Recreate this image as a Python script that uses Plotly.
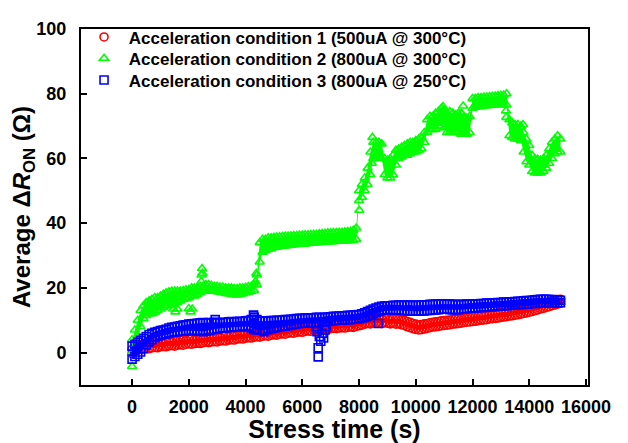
import plotly.graph_objects as go

# ---- data ----
# sampling times (s) of the dense measurement cloud
t_grid = [0, 100, 200, 300, 400, 500, 600, 700, 800, 900,
          1000, 1100, 1200, 1300, 1400, 1500, 1600, 1700, 1800, 1900,
          2000, 2100, 2200, 2300, 2400, 2500, 2600, 2700, 2800, 2900,
          3000, 3100, 3200, 3300, 3400, 3500, 3600, 3700, 3800, 3900,
          4000, 4100, 4200, 4300, 4400, 4500, 4600, 4700, 4800, 4900,
          5000, 5100, 5200, 5300, 5400, 5500, 5600, 5700, 5800, 5900,
          6000, 6100, 6200, 6300, 6400, 6500, 6600, 6700, 6800, 6900,
          7000, 7100, 7200, 7300, 7400, 7500, 7600, 7700, 7800, 7900,
          8000, 8100, 8200, 8300, 8400, 8500, 8600, 8700, 8800, 8900,
          9000, 9100, 9200, 9300, 9400, 9500, 9600, 9700, 9800, 9900,
          10000, 10100, 10200, 10300, 10400, 10500, 10600, 10700, 10800, 10900,
          11000, 11100, 11200, 11300, 11400, 11500, 11600, 11700, 11800, 11900,
          12000, 12100, 12200, 12300, 12400, 12500, 12600, 12700, 12800, 12900,
          13000, 13100, 13200, 13300, 13400, 13500, 13600, 13700, 13800, 13900,
          14000, 14100, 14200, 14300, 14400, 14500, 14600, 14700, 14800, 14900,
          15000, 15100]

# Condition 1 (red): lower / upper edge of the point cloud
c1_lo = [-0.3, 0.4, 0.8, 1.0, 1.1, 1.3, 1.2, 1.5, 1.6, 1.5,
         1.8, 1.9, 1.8, 2.1, 2.2, 2.0, 2.3, 2.4, 2.3, 2.6,
         2.7, 2.6, 2.8, 2.9, 2.8, 3.1, 3.2, 3.1, 3.3, 3.4,
         3.3, 3.6, 3.7, 3.6, 3.9, 4.0, 3.9, 4.2, 4.3, 4.2,
         4.5, 4.6, 4.5, 4.8, 4.9, 4.8, 5.1, 5.2, 5.1, 5.4,
         5.5, 5.4, 5.7, 5.8, 5.7, 6.0, 6.1, 6.0, 6.3, 6.4,
         6.3, 6.6, 6.7, 6.6, 6.9, 7.0, 6.9, 7.2, 7.2, 7.1,
         7.4, 7.5, 7.4, 7.6, 7.7, 7.6, 7.8, 7.9, 7.8, 8.1,
         8.3, 8.5, 8.8, 9.0, 8.9, 9.2, 9.1, 9.3, 9.0, 9.2,
         9.1, 8.9, 9.1, 8.8, 8.9, 8.6, 8.4, 8.0, 7.7, 7.4,
         7.2, 7.0, 7.1, 7.3, 7.5, 7.7, 7.9, 8.0, 8.1, 8.3,
         8.4, 8.5, 8.6, 8.8, 8.9, 9.0, 9.1, 9.3, 9.4, 9.5,
         9.6, 9.7, 9.9, 10.0, 10.1, 10.2, 10.4, 10.5, 10.6, 10.7,
         10.9, 11.0, 11.1, 11.3, 11.4, 11.6, 11.7, 11.9, 12.1, 12.3,
         12.5, 12.7, 13.0, 13.2, 13.5, 13.7, 14.0, 14.2, 14.5, 14.7,
         15.0, 15.2]
c1_hi = [1.0, 1.8, 2.2, 2.4, 2.6, 2.4, 2.8, 3.0, 2.9, 3.2,
         3.3, 3.1, 3.5, 3.6, 3.4, 3.8, 3.7, 3.9, 4.1, 3.9,
         4.2, 4.3, 4.1, 4.4, 4.6, 4.4, 4.7, 4.8, 4.6, 4.9,
         5.0, 4.8, 5.2, 5.3, 5.1, 5.5, 5.4, 5.6, 5.8, 5.6,
         5.9, 6.0, 5.8, 6.2, 6.3, 6.1, 6.5, 6.6, 6.4, 6.8,
         6.9, 6.7, 7.1, 7.2, 7.0, 7.4, 7.5, 7.3, 7.7, 7.8,
         7.6, 8.0, 8.1, 7.9, 8.3, 8.4, 8.2, 8.6, 8.6, 8.4,
         8.8, 8.9, 8.7, 9.0, 9.1, 8.9, 9.2, 9.3, 9.1, 9.5,
         9.7, 9.9, 10.3, 10.5, 10.4, 10.7, 10.6, 10.8, 10.5, 10.7,
         10.6, 10.4, 10.6, 10.3, 10.4, 10.1, 10.0, 9.6, 9.4, 9.0,
         8.8, 8.6, 8.7, 8.9, 9.0, 9.2, 9.4, 9.5, 9.6, 9.8,
         9.9, 10.0, 10.1, 10.3, 10.4, 10.5, 10.6, 10.8, 10.9, 11.0,
         11.1, 11.2, 11.4, 11.5, 11.6, 11.7, 11.9, 12.0, 12.1, 12.2,
         12.4, 12.5, 12.6, 12.8, 12.9, 13.1, 13.2, 13.4, 13.6, 13.8,
         14.0, 14.2, 14.5, 14.7, 15.0, 15.2, 15.5, 15.7, 16.0, 16.2,
         16.4, 16.5]
c1_out_t = []
c1_out_v = []

# Condition 2 (green)
c2_lo = [0.0, 2.0, 5.0, 8.0, 10.5, 11.5, 12.0, 12.0, 12.5, 13.0,
         13.5, 14.0, 14.5, 14.5, 15.0, 15.5, 15.5, 16.0, 16.5, 16.7,
         17.0, 17.5, 17.5, 18.0, 18.5, 19.0, 19.0, 19.0, 19.0, 19.0,
         18.8, 18.7, 18.5, 18.3, 18.2, 18.0, 17.9, 17.8, 18.0, 18.2,
         18.5, 18.7, 19.0, 19.2, 21.0, 28.0, 31.0, 31.5, 32.0, 32.0,
         32.5, 32.6, 32.8, 32.9, 33.0, 33.1, 33.2, 33.3, 33.4, 33.5,
         33.5, 33.6, 33.7, 33.8, 33.9, 34.0, 34.0, 34.1, 34.2, 34.2,
         34.3, 34.3, 34.4, 34.4, 34.5, 34.5, 34.6, 34.6, 34.7, 35.0,
         47.0, 48.0, 50.0, 52.0, 55.0, 60.0, 60.0, 60.5, 60.0, 55.0,
         54.0, 54.0, 55.0, 58.0, 60.0, 60.5, 61.0, 61.0, 61.5, 62.0,
         62.0, 62.5, 63.0, 65.0, 68.0, 69.0, 69.0, 69.0, 70.0, 70.0,
         69.5, 68.0, 68.0, 68.0, 68.0, 68.0, 67.5, 67.5, 67.5, 68.0,
         75.5, 75.8, 76.0, 76.0, 76.2, 76.3, 76.4, 76.5, 76.5, 76.6,
         76.7, 76.6, 76.5, 67.0, 66.5, 66.0, 66.0, 65.5, 62.0, 59.0,
         58.0, 56.0, 55.5, 55.5, 55.5, 56.0, 57.0, 58.5, 60.0, 61.5,
         62.0, 62.0]
c2_hi = [4.0, 7.0, 10.0, 13.0, 14.5, 15.5, 16.0, 16.5, 17.0, 17.0,
         17.5, 18.0, 18.5, 18.8, 19.0, 19.0, 19.0, 19.0, 19.2, 19.4,
         19.5, 20.0, 20.0, 20.0, 20.5, 20.5, 21.0, 21.0, 20.8, 20.5,
         20.5, 20.3, 20.3, 20.0, 20.0, 20.0, 19.8, 19.8, 20.0, 20.0,
         20.2, 20.4, 20.5, 21.0, 24.0, 34.0, 35.0, 35.0, 35.5, 35.5,
         35.6, 35.7, 35.8, 35.9, 36.0, 36.0, 36.1, 36.2, 36.2, 36.3,
         36.3, 36.4, 36.4, 36.5, 36.6, 36.6, 36.7, 36.8, 36.9, 37.0,
         37.0, 37.1, 37.1, 37.2, 37.2, 37.3, 37.4, 37.5, 37.8, 38.5,
         50.0, 52.0, 54.0, 57.0, 62.0, 65.0, 65.0, 65.0, 64.5, 60.0,
         59.5, 60.0, 61.0, 62.5, 63.0, 63.5, 64.0, 64.5, 65.0, 65.0,
         65.5, 66.0, 66.5, 68.0, 72.0, 73.0, 73.0, 74.0, 74.5, 75.5,
         75.0, 74.0, 74.5, 74.0, 73.5, 74.0, 74.0, 73.0, 72.5, 73.0,
         78.5, 78.6, 78.8, 78.8, 79.0, 79.0, 79.1, 79.2, 79.3, 79.4,
         79.5, 79.6, 80.0, 72.0, 71.0, 70.5, 70.5, 70.0, 68.0, 66.0,
         64.0, 61.0, 60.0, 59.7, 59.5, 60.0, 61.0, 63.0, 65.0, 66.0,
         67.0, 66.0]
c2_out_t = [0, 1450, 1525, 1600, 2000, 2060, 2120, 2440, 2450, 2465, 2480,
            4350, 4380, 8010, 8450, 8470, 10960, 11670, 13180, 13190, 13780]
c2_out_v = [-4.3, 13.5, 12.6, 13.5, 13.6, 12.6, 13.5, 22.0, 24.0, 26.0, 24.5,
            22.0, 24.5, 44.0, 58.5, 66.5, 76.0, 76.2, 74.7, 72.7, 70.5]

# Condition 3 (blue)
c3_lo = [-2.0, -1.2, -0.5, 0.2, 1.2, 2.4, 3.3, 4.0, 4.6, 5.0,
         5.3, 5.6, 5.8, 6.1, 6.3, 6.4, 6.5, 6.6, 6.7, 6.8,
         6.8, 6.9, 6.8, 6.7, 6.6, 6.5, 6.6, 6.8, 7.0, 7.2,
         7.3, 7.5, 7.6, 7.7, 7.8, 7.8, 7.9, 8.0, 8.0, 8.1,
         8.1, 8.0, 7.6, 7.2, 7.0, 7.0, 6.9, 7.0, 7.2, 7.4,
         7.6, 7.8, 8.0, 8.1, 8.2, 8.3, 8.5, 8.7, 8.9, 9.0,
         9.1, 9.2, 9.2, 9.3, 9.3, 9.2, 9.3, 9.4, 9.5, 9.7,
         9.8, 9.9, 10.0, 10.0, 10.1, 10.1, 10.2, 10.2, 10.3, 10.4,
         10.5, 10.7, 10.9, 11.2, 11.6, 12.0, 12.4, 12.7, 13.0, 13.2,
         13.3, 13.3, 13.2, 13.2, 13.1, 13.0, 13.0, 12.9, 12.9, 12.8,
         12.8, 12.8, 12.9, 12.9, 13.0, 13.0, 13.1, 13.2, 13.3, 13.4,
         13.4, 13.4, 13.3, 13.3, 13.3, 13.3, 13.4, 13.5, 13.6, 13.7,
         13.8, 13.8, 13.9, 14.0, 14.0, 14.1, 14.2, 14.2, 14.3, 14.4,
         14.4, 14.5, 14.5, 14.6, 14.7, 14.7, 14.8, 14.9, 14.9, 15.0,
         15.1, 15.2, 15.2, 15.3, 15.4, 15.4, 15.4, 15.4, 15.4, 15.4,
         15.4, 15.4]
c3_hi = [2.0, 2.6, 3.2, 3.8, 4.4, 5.0, 5.6, 6.0, 6.3, 6.5,
         6.8, 7.0, 7.2, 7.6, 7.8, 7.9, 8.1, 8.3, 8.5, 8.6,
         8.8, 8.9, 9.0, 9.1, 9.2, 9.3, 9.2, 9.3, 9.2, 9.4,
         9.3, 9.2, 9.4, 9.3, 9.5, 9.6, 9.5, 9.6, 9.7, 9.6,
         9.8, 9.9, 10.2, 10.8, 10.2, 9.8, 9.7, 9.8, 9.8, 9.9,
         9.9, 10.0, 10.0, 10.1, 10.2, 10.2, 10.3, 10.4, 10.5, 10.6,
         10.6, 10.7, 10.7, 10.8, 10.8, 10.9, 10.9, 10.8, 10.9, 11.0,
         11.1, 11.2, 11.2, 11.3, 11.3, 11.4, 11.5, 11.5, 11.6, 11.7,
         11.8, 12.0, 12.3, 12.7, 13.1, 13.5, 13.8, 14.1, 14.3, 14.4,
         14.5, 14.5, 14.6, 14.6, 14.7, 14.6, 14.7, 14.6, 14.7, 14.6,
         14.6, 14.7, 14.7, 14.8, 14.8, 14.9, 14.9, 15.0, 15.0, 15.1,
         15.1, 15.0, 15.0, 14.9, 14.9, 14.8, 14.9, 14.9, 15.0, 15.0,
         15.0, 15.1, 15.1, 15.2, 15.2, 15.3, 15.3, 15.4, 15.4, 15.5,
         15.5, 15.6, 15.6, 15.7, 15.7, 15.8, 15.9, 15.9, 16.0, 16.1,
         16.1, 16.2, 16.3, 16.4, 16.5, 16.5, 16.5, 16.4, 16.4, 16.3,
         16.3, 16.2]
c3_out_t = [2930, 4280, 4300, 4650, 6480, 6520, 6560, 6560, 6600, 6650, 6700,
            6750, 6800, 6850, 8680]
c3_out_v = [10.2, 11.6, 11.0, 6.5, 8.0, 6.5, 1.5, -1.3, 5.0, 3.5, 6.0,
            4.5, 7.0, 8.0, 9.0]

names = ["\u00a0Acceleration condition 1 (500uA @ 300°C)",
         "\u00a0Acceleration condition 2 (800uA @ 300°C)",
         "\u00a0Acceleration condition 3 (800uA @ 250°C)"]
colors = ["#FF0000", "#00FF00", "#0000FF"]
symbols = ["circle-open", "triangle-up-open", "square-open"]
legend_ids = ["legend", "legend2", "legend3"]

x_ticks = [0, 2000, 4000, 6000, 8000, 10000, 12000, 14000, 16000]
x_ticktext = ["0", "2000", "4000", "6000", "8000", "10000", "12000", "14000", "16000"]
y_ticks = [0, 20, 40, 60, 80, 100]

series = [(c1_lo, c1_hi, c1_out_t, c1_out_v),
          (c2_lo, c2_hi, c2_out_t, c2_out_v),
          (c3_lo, c3_hi, c3_out_t, c3_out_v)]

fig = go.Figure()
for (lo, hi, ot, ov), n, c, s, lg in zip(series, names, colors, symbols, legend_ids):
    # dense cloud interior
    fig.add_trace(go.Scatter(x=t_grid + t_grid[::-1], y=hi + lo[::-1], mode="lines",
                             fill="toself", fillcolor=c, line=dict(width=0, color=c),
                             showlegend=False, hoverinfo="skip"))
    # individual open markers
    fig.add_trace(go.Scatter(x=t_grid + t_grid + ot, y=lo + hi + ov, mode="markers",
                             name=n, legend=lg,
                             marker=dict(symbol=s, size=8, color=c,
                                         line=dict(color=c, width=1.6))))

font_family = "Liberation Sans, Arial, sans-serif"
axis_common = dict(showline=True, linecolor="black", linewidth=2, mirror=True,
                   ticks="inside", ticklen=6, tickwidth=1.5, tickcolor="black",
                   showgrid=False, zeroline=False, automargin=False,
                   tickfont=dict(family=font_family, size=18, color="black", weight="bold"))

legend_common = dict(x=0.006, xanchor="left", yanchor="top",
                     bgcolor="rgba(0,0,0,0)", borderwidth=0,
                     font=dict(family=font_family, size=17, color="black", weight="bold"))

# the page body has an 8px margin, so the figure is sized/margined to land on the reference layout
fig.update_layout(
    width=620, height=435,
    margin=dict(l=73, r=40, t=11, b=58),
    paper_bgcolor="white", plot_bgcolor="white",
    font=dict(family=font_family, color="black", weight="bold"),
    xaxis=dict(range=[-1800, 16070], tickvals=x_ticks, ticktext=x_ticktext,
               ticklabelstandoff=4,
               title=dict(text="Stress time (s)", standoff=3,
                          font=dict(family=font_family, size=25, color="black", weight="bold")),
               **axis_common),
    yaxis=dict(range=[-10, 100], tickvals=y_ticks, ticklabelstandoff=9,
               title=dict(text="Average Δ<i>R</i><sub>ON</sub> (Ω)", standoff=0,
                          font=dict(family=font_family, size=24, color="black", weight="bold")),
               **axis_common),
    legend=dict(y=1.027, **legend_common),
    legend2=dict(y=0.967, **legend_common),
    legend3=dict(y=0.906, **legend_common),
    showlegend=True,
)

fig.write_html("out.html")
